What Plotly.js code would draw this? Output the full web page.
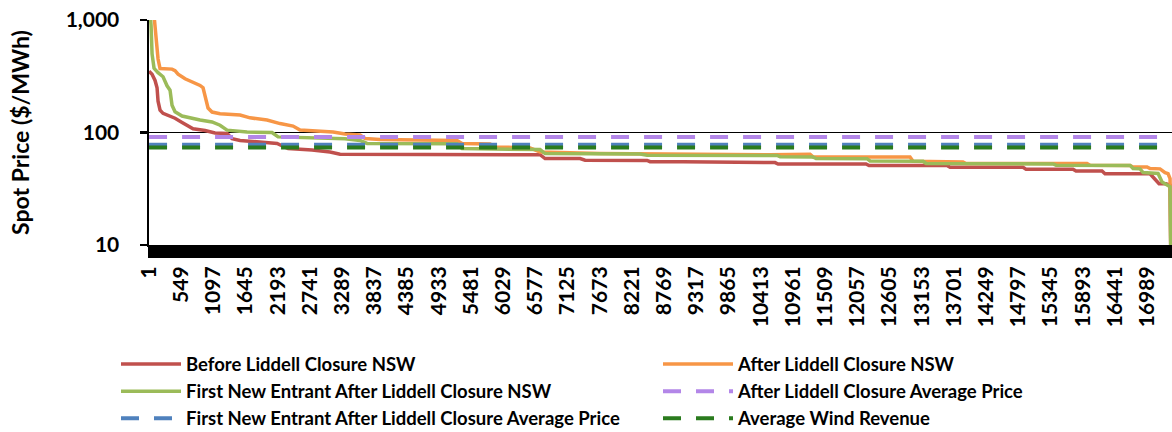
<!DOCTYPE html>
<html>
<head>
<meta charset="utf-8">
<script src="https://cdn.plot.ly/plotly-3.0.1.min.js"></script>
<style>
  html, body { margin: 0; padding: 0; background: #fff; }
  #chart { width: 1172px; height: 432px; }
</style>
</head>
<body>
<div id="chart"></div>
<script>
// ---- Data ----
// Price duration curves: rank of half-hour (sorted) and spot price ($/MWh) at breakpoints
var beforeRank = [1, 52, 103, 137, 154, 188, 239, 307, 443, 563, 750, 954, 1124, 1329, 1414, 1550, 2180, 2316, 2367, 2775, 3082, 3252, 6656, 6741, 7337, 7422, 8477, 8528, 9090, 10656, 10707, 12204, 12255, 13583, 13634, 14876, 14927, 15727, 15778, 16221, 16272, 17038, 17140, 17192, 17311, 17379, 17396];
var beforePrice = [350, 330, 290, 250, 190, 158, 148, 143, 134, 123, 108, 104, 99, 98, 88, 85, 80, 74, 72, 70, 67, 64, 63.5, 58.7, 58.7, 56.7, 56.5, 55, 55, 54, 52.5, 52.5, 50.8, 50.8, 49, 49, 47.2, 47.2, 45.5, 45.5, 43, 43, 38, 35, 35, 34, 5];

var afterRank = [1, 86, 120, 154, 188, 392, 443, 495, 614, 784, 869, 920, 971, 1005, 1073, 1209, 1550, 1720, 2009, 2231, 2452, 2571, 3133, 3337, 3592, 3677, 3933, 5243, 5328, 5805, 5890, 6486, 6656, 7337, 7677, 10570, 11251, 11302, 12953, 13004, 13855, 13906, 15966, 16017, 16698, 16749, 16987, 17038, 17208, 17294, 17345, 17379, 17396];
var afterPrice = [1500, 1100, 700, 450, 370, 366, 355, 330, 300, 275, 262, 250, 200, 165, 152, 147, 143, 135, 129, 120, 114, 105, 101, 97, 95, 88.5, 86.6, 85, 80, 79, 74.5, 73, 67.2, 66, 65, 63.5, 64, 60.7, 60.5, 55.5, 54.7, 53, 53, 51.2, 51, 49.4, 49.4, 47.8, 47.5, 44, 43, 39, 5];

var fneRank = [1, 35, 52, 86, 154, 239, 307, 358, 392, 443, 563, 699, 869, 1073, 1209, 1329, 1669, 2094, 2197, 3337, 3592, 3711, 5243, 5328, 6656, 6741, 8358, 8477, 10690, 10741, 11302, 11353, 12221, 12272, 13175, 13226, 15387, 15438, 16698, 16749, 16868, 16920, 17175, 17243, 17345, 17379, 17396];
var fnePrice = [1500, 900, 500, 372, 340, 313, 260, 238, 175, 153, 140, 134, 129, 124, 116, 105, 101, 100, 91.4, 88, 85, 80, 79.5, 72, 70.5, 65, 64.5, 62.8, 62.5, 61, 60.5, 58.7, 58.5, 55.9, 55.5, 53, 52.5, 51.2, 51, 47.8, 47.5, 44, 43.2, 36.3, 34, 33, 5];

// Horizontal average lines ($/MWh)
var avgRank = [1, 17520];
var afterAvgPrice = 91;
var fneAvgPrice = 78;
var windAvgRevenue = 73.5;

// Tick labels
var xTickVals = [];
for (var t = 1; t <= 16989; t += 548) xTickVals.push(t);
var xTickText = xTickVals.map(String);
var yTickVals = [10, 100, 1000];
var yTickText = ["10", "100", "1,000"];

var seriesNames = [
  "Before Liddell Closure NSW",
  "After Liddell Closure NSW",
  "First New Entrant After Liddell Closure NSW",
  "After Liddell Closure Average Price",
  "First New Entrant After Liddell Closure Average Price",
  "Average Wind Revenue"
];

// ---- Styling ----
var FONT = "Lato, 'Open Sans', sans-serif";
var W = 1172, H = 432;
var mL = 149, mR = 0, mT = 20, mB = 187.4;
var plotW = W - mL - mR, plotH = H - mT - mB;
function px2paperX(px) { return (px - mL) / plotW; }
function px2paperY(py) { return (H - mB - py) / plotH; }

function flat(v) { return avgRank.map(function () { return v; }); }

var traces = [
  { x: beforeRank, y: beforePrice, name: seriesNames[0], type: "scatter", mode: "lines",
    line: { color: "#C0504D", width: 3.5 }, legend: "legend", legendgroup: "a" },
  { x: afterRank, y: afterPrice, name: seriesNames[1], type: "scatter", mode: "lines",
    line: { color: "#F79646", width: 3.5 }, legend: "legend2", legendgroup: "b" },
  { x: fneRank, y: fnePrice, name: seriesNames[2], type: "scatter", mode: "lines",
    line: { color: "#9BBB59", width: 3.5 }, legend: "legend", legendgroup: "c" },
  { x: avgRank, y: flat(afterAvgPrice), name: seriesNames[3], type: "scatter", mode: "lines",
    line: { color: "#B386E8", width: 4, dash: "18px,15px" }, legend: "legend2", legendgroup: "d" },
  { x: avgRank, y: flat(fneAvgPrice), name: seriesNames[4], type: "scatter", mode: "lines",
    line: { color: "#4F81BD", width: 4, dash: "18px,15px" }, legend: "legend", legendgroup: "e" },
  { x: avgRank, y: flat(windAvgRevenue), name: seriesNames[5], type: "scatter", mode: "lines",
    line: { color: "#2A7B1E", width: 4, dash: "18px,15px" }, legend: "legend2", legendgroup: "f" }
];

var legendCommon = {
  orientation: "v",
  xanchor: "left", yanchor: "top",
  bgcolor: "rgba(0,0,0,0)",
  borderwidth: 0,
  tracegroupgap: 0,
  font: { family: FONT, size: 18.5, color: "#000", weight: 700 },
  traceorder: "grouped"
};

var layout = {
  width: W, height: H,
  margin: { l: mL, r: mR, t: mT, b: mB, pad: 0, autoexpand: false },
  paper_bgcolor: "#fff", plot_bgcolor: "#fff",
  font: { family: FONT, color: "#000" },
  showlegend: true,
  legend: Object.assign({}, legendCommon, { x: px2paperX(116), y: px2paperY(345), itemwidth: 60 }),
  legend2: Object.assign({}, legendCommon, { x: px2paperX(658), y: px2paperY(345), itemwidth: 70 }),
  xaxis: {
    type: "linear",
    range: [0, 17412],
    tickmode: "array", tickvals: xTickVals, ticktext: xTickText,
    tickangle: -90,
    tickfont: { family: FONT, size: 21, color: "#000", weight: 700 },
    ticks: "outside", ticklen: 11, tickwidth: 2, tickcolor: "#000",
    minor: { ticks: "outside", ticklen: 11, tickwidth: 2, tickcolor: "#000", dtick: 25, showgrid: false },
    showline: true, linecolor: "#000", linewidth: 2,
    showgrid: false, zeroline: false, fixedrange: true
  },
  yaxis: {
    type: "log",
    range: [1, 3],
    tickmode: "array", tickvals: yTickVals, ticktext: yTickText,
    tickfont: { family: FONT, size: 21, color: "#000", weight: 700 },
    ticks: "outside", ticklen: 7, tickwidth: 2.5, tickcolor: "#000",
    ticklabelstandoff: 16,
    showline: true, linecolor: "#000", linewidth: 2.5,
    showgrid: true, gridcolor: "#000", gridwidth: 1.5,
    zeroline: false, fixedrange: true,
    title: { text: "Spot Price ($/MWh)", font: { family: FONT, size: 23, color: "#000", weight: 700 }, standoff: 30 }
  }
};

Plotly.newPlot("chart", traces, layout, { displayModeBar: false, staticPlot: true });
</script>
</body>
</html>
